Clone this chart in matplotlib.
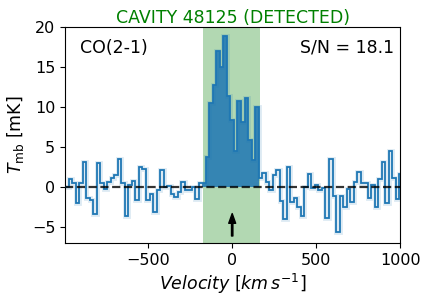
import numpy as np
import matplotlib.pyplot as plt

plt.rcParams['font.size'] = 11.5

# channel grid (km/s)
v_first_edge = -995.0
dv = 20.95

# T_mb per channel in mK
tmb = [0.05, 1.08, 0.46, -2.0, 0.46, 3.2, -1.3, -1.6, -3.3, 2.96,
       0.58, -0.17, 0.67, 1.2, 1.58, 3.58, 0.46, -3.65, 0.3, 0.72,
       -1.6, 2.46, 2.33, -1.6, -0.9, -3.15, -0.37, 2.2, -0.04, 0.2,
       -0.9, -1.25, -0.65, 0.7, -0.37, -0.37, 0.05, -1.45, 0.55, 0.46,
       3.8, 10.5, 12.75, 17.0, 15.0, 18.9, 11.4, 8.4, 4.5, 10.75,
       8.2, 11.1, 5.9, 3.4, 10.0, 1.1, 1.8, 0.7, -0.35, 1.55,
       2.2, -1.75, -4.0, 2.46, -1.8, -1.4, -2.45, -3.65, 0.04, 1.7,
       -0.07, 0.3, -0.35, -0.05, -3.8, 3.46, -1.05, -5.65, -1.15, -2.5,
       -0.17, -1.9, 0.67, 1.9, 0.54, 0.54, -1.4, 0.33, -2.5, 0.96,
       3.2, -2.0, 4.5, 1.2, -1.5, 1.6]

band = (-174, 165)
src_name = 'CAVITY 48125 (DETECTED)'
line_name = 'CO(2-1)'
snr = 18.1

tmb = np.array(tmb)
edges = v_first_edge + dv * np.arange(len(tmb) + 1)
centers = 0.5 * (edges[:-1] + edges[1:])

fig = plt.figure(figsize=(4.28, 3.04), dpi=100)
ax = fig.add_axes([0.152, 0.2, 0.783, 0.711])

ax.axvspan(band[0], band[1], color='green', alpha=0.3, lw=0, zorder=0)

inb = np.where((centers > band[0]) & (centers < band[1]))[0]
i0, i1 = inb[0], inb[-1] + 1
ax.stairs(tmb[i0:i1], edges[i0:i1 + 1], fill=True, baseline=0,
          color='C0', alpha=0.85, zorder=1)

ax.stairs(tmb, edges, baseline=None, color='C0', lw=3.5, alpha=0.15, zorder=2)
ax.stairs(tmb, edges, baseline=None, color='C0', lw=1.3, zorder=3)

ax.axhline(0, color='k', ls='--', lw=1.6, alpha=0.8, zorder=4)

ax.annotate('', xy=(0, -3.3), xytext=(0, -6.1),
            arrowprops=dict(facecolor='black', edgecolor='black',
                            width=1.0, headwidth=5, headlength=7))

ax.text(0.045, 0.905, line_name, transform=ax.transAxes, va='center',
        ha='left', fontsize=12.5)
ax.text(0.982, 0.905, f'S/N = {snr}', transform=ax.transAxes, va='center',
        ha='right', fontsize=12.5)

ax.set_xlim(-995, 1000)
ax.set_ylim(-7, 20)
ax.set_xlabel(r'$Velocity\ [km\,s^{-1}]$', fontsize=12.5, labelpad=3)
ax.set_ylabel(r'$T_{\rm mb}$ [mK]', fontsize=12.5)
ax.set_title(src_name, color='green', fontsize=12.5, pad=3)

fig.savefig('out.png', dpi=100)
